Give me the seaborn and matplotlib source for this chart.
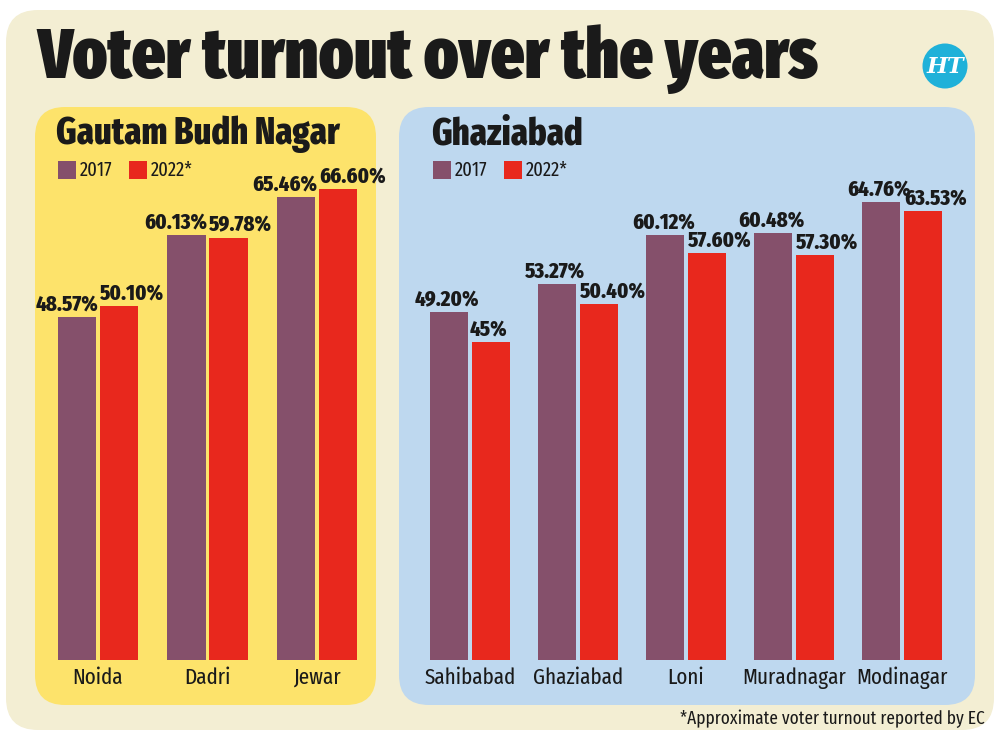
import matplotlib
matplotlib.use("Agg")
import matplotlib.pyplot as plt
import seaborn as sns
import pandas as pd
from matplotlib.patches import FancyBboxPatch, Circle, Rectangle

sns.set_theme(style="white")
FONT = ['Fira Sans Extra Condensed', 'DejaVu Sans']
plt.rcParams['font.family'] = FONT

# ---- data ----
years = ["2017", "2022*"]
gbn_places = ["Noida", "Dadri", "Jewar"]
gbn_2017 = [48.57, 60.13, 65.46]
gbn_2022 = [50.10, 59.78, 66.60]
gbn_lab_2017 = ["48.57%", "60.13%", "65.46%"]
gbn_lab_2022 = ["50.10%", "59.78%", "66.60%"]

gzb_places = ["Sahibabad", "Ghaziabad", "Loni", "Muradnagar", "Modinagar"]
gzb_2017 = [49.20, 53.27, 60.12, 60.48, 64.76]
gzb_2022 = [45.0, 50.40, 57.60, 57.30, 63.53]
gzb_lab_2017 = ["49.20%", "53.27%", "60.12%", "60.48%", "64.76%"]
gzb_lab_2022 = ["45%", "50.40%", "57.60%", "57.30%", "63.53%"]

C2017 = "#85506b"
C2022 = "#e8281d"
CREAM = "#f3eed3"
YELLOW = "#fde36b"
BLUE = "#bed8ef"
INK = "#1a1a1a"

W, H = 1000, 735
fig = plt.figure(figsize=(W / 100, H / 100), dpi=100)
fig.patch.set_facecolor("white")

def rbox(x0, y0, x1, y1, r, color):
    p = FancyBboxPatch((x0 / 100 + r, (H - y1) / 100 + r),
                       (x1 - x0) / 100 - 2 * r, (y1 - y0) / 100 - 2 * r,
                       boxstyle=f"round,pad={r}", transform=fig.dpi_scale_trans,
                       facecolor=color, edgecolor="none", zorder=-2)
    fig.patches.append(p)

rbox(6, 10, 994, 730, 0.32, CREAM)
rbox(35, 107, 376, 705, 0.30, YELLOW)
rbox(399, 107, 975, 705, 0.30, BLUE)

def fx(px):
    return px / W
def fy(py):
    return 1 - py / H

fig.text(fx(37), fy(59), "Voter turnout over the years", fontsize=51, fontweight="black",
         color=INK, va="center", ha="left")
logo = Circle((945 / 100, (H - 66) / 100), 0.225, transform=fig.dpi_scale_trans,
              facecolor="#1fb1d9", edgecolor="none", zorder=-1)
fig.patches.append(logo)
fig.text(fx(945), fy(67), "HT", fontsize=16, fontweight="bold", fontstyle="italic",
         family=["DejaVu Serif"], color="white", ha="center", va="center")

def panel(left_px, right_px, places, v17, v22, l17, l22, title, title_x, aligns):
    bottom_px, top_px = 660, 130
    ax = fig.add_axes([fx(left_px), 1 - bottom_px / H, (right_px - left_px) / W,
                       (bottom_px - top_px) / H])
    ax.set_facecolor("none")
    df = pd.DataFrame({
        "place": places * 2,
        "year": [years[0]] * len(places) + [years[1]] * len(places),
        "value": list(v17) + list(v22),
    })
    sns.barplot(data=df, x="place", y="value", hue="year", order=places,
                hue_order=years, palette=[C2017, C2022], width=0.77, gap=0.09,
                ax=ax, legend=False, saturation=1, errorbar=None, linewidth=0)
    for cont, labs, al in zip(ax.containers, [l17, l22], aligns):
        for bar, lab in zip(cont.patches, labs):
            a = al if len(lab) > 3 else "center"
            if a == "right":
                xx = bar.get_x() + bar.get_width()
                dx = 2
            elif a == "left":
                xx = bar.get_x()
                dx = 0
            else:
                xx = bar.get_x() + bar.get_width() / 2
                dx = -2
            ax.annotate(lab, (xx, bar.get_height()), xytext=(dx, 2),
                        textcoords="offset pixels", ha=a, va="bottom",
                        fontsize=16, fontweight="heavy", color=INK)
    ax.set_ylim(0, 75)
    ax.set_xlim(-0.5, len(places) - 0.5)
    for s in ax.spines.values():
        s.set_visible(False)
    ax.set_yticks([])
    ax.set_xlabel("")
    ax.set_ylabel("")
    ax.tick_params(axis="x", length=0, pad=5, labelsize=16.5, labelcolor=INK)
    fig.text(fx(title_x), fy(134), title, fontsize=27, fontweight="heavy",
             color=INK, va="center", ha="left")
    lx = title_x + 2
    for i, (yr, col) in enumerate(zip(years, [C2017, C2022])):
        x0 = lx + i * 71
        fig.patches.append(Rectangle((x0 / 100, (H - 179) / 100), 0.18, 0.18,
                                     transform=fig.dpi_scale_trans, facecolor=col,
                                     edgecolor="none"))
        fig.text(fx(x0 + 22), fy(170), yr, fontsize=14.5, color=INK,
                 va="center", ha="left")
    return ax

panel(43, 372, gbn_places, gbn_2017, gbn_2022, gbn_lab_2017, gbn_lab_2022,
      "Gautam Budh Nagar", 56, ("right", "left"))
panel(416, 956, gzb_places, gzb_2017, gzb_2022, gzb_lab_2017, gzb_lab_2022,
      "Ghaziabad", 431, ("center", "left"))

fig.text(fx(985), fy(719), "*Approximate voter turnout reported by EC", fontsize=13.5,
         color=INK, ha="right", va="center")

fig.savefig("out.png", dpi=100)
